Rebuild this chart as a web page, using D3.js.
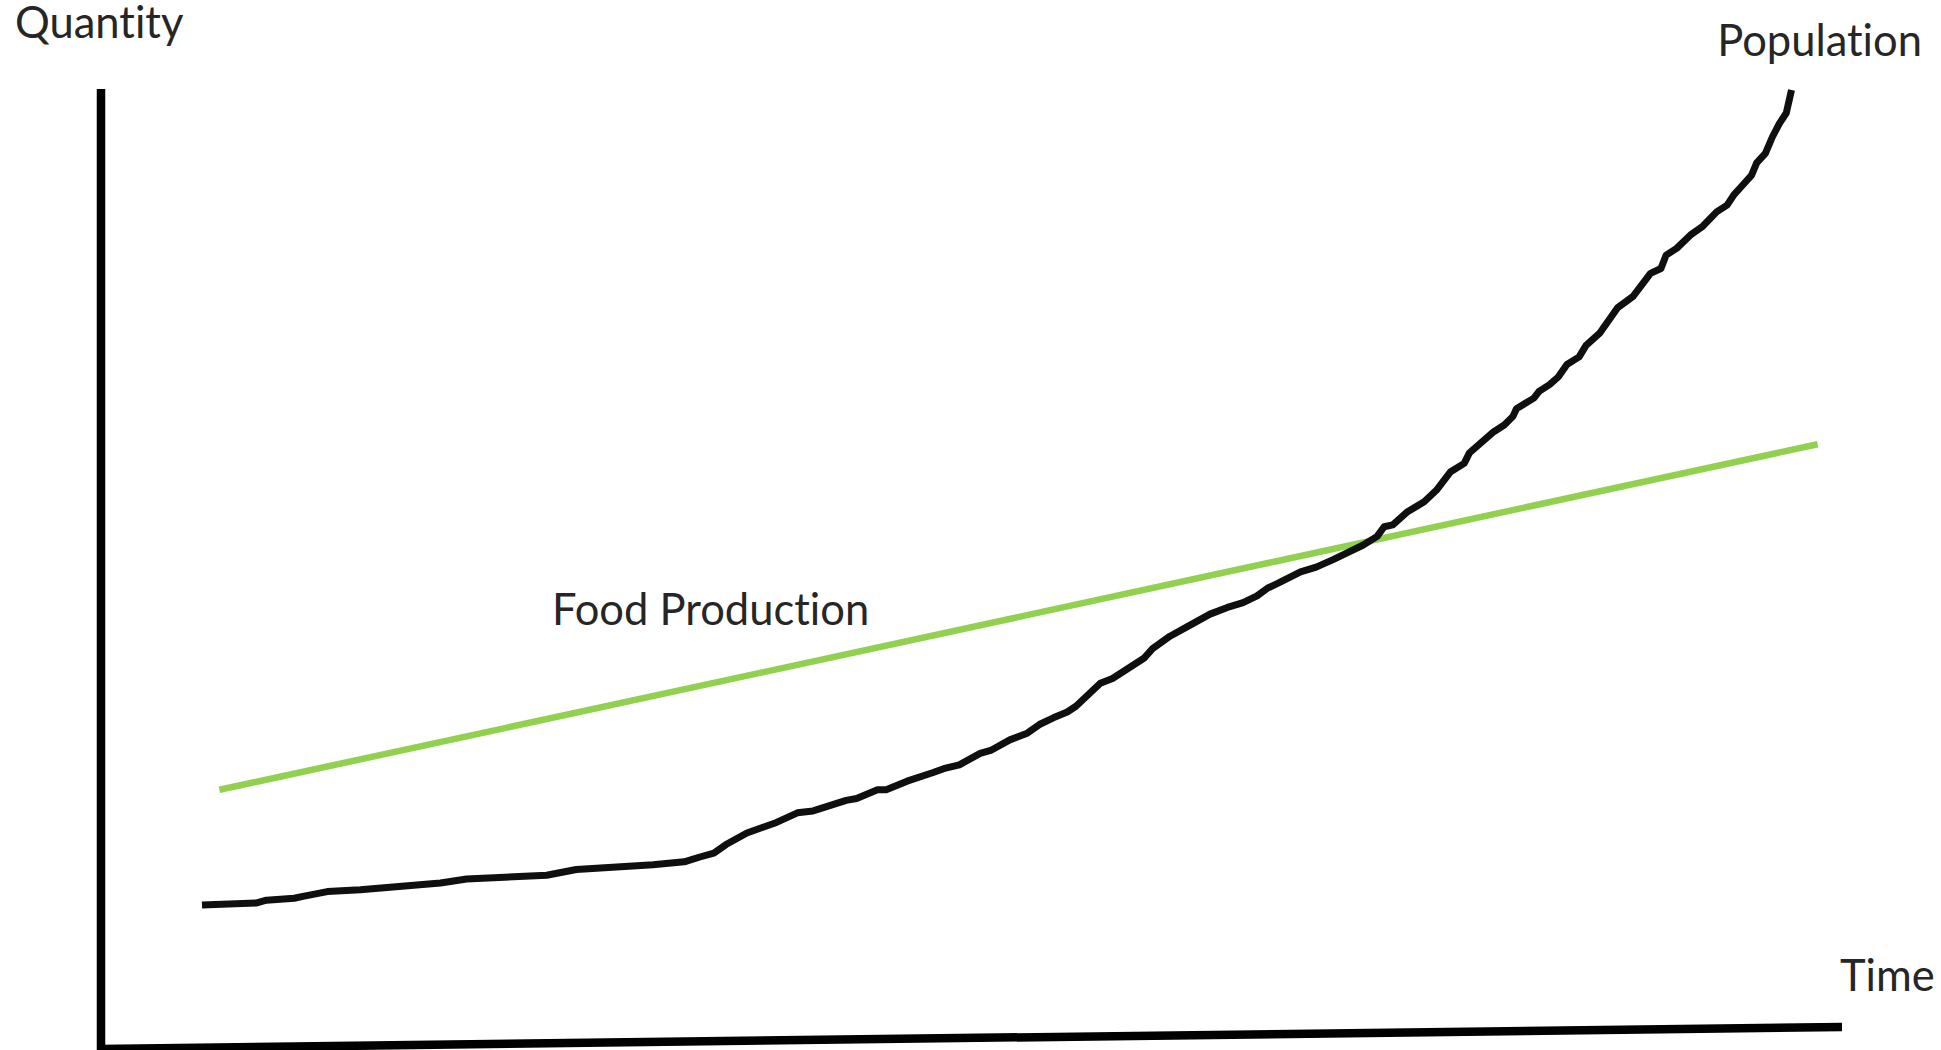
<!DOCTYPE html>
<html>
<head>
<meta charset="utf-8">
<script src="https://cdn.jsdelivr.net/npm/d3@7"></script>
<style>
  body { margin: 0; background: #fff; }
  svg { display: block; }
  text { font-family: Lato, "Open Sans", sans-serif; fill: #262626; font-variant-ligatures: none; }
</style>
</head>
<body>
<svg width="1941" height="1050"></svg>
<script>
// time / quantity units, 0..100 on both axes
var popTime = [5.8, 8.9, 9.5, 11.1, 11.6, 13.0, 14.9, 19.5, 21.0, 25.6, 27.3, 31.7, 33.5, 34.4,
  35.2, 35.9, 37.1, 38.8, 40.0, 40.9, 42.8, 43.4, 44.6, 45.1, 46.3, 47.8, 48.4, 49.3, 50.5, 51.1,
  52.2, 53.2, 53.9, 54.7, 55.5, 56.0, 57.4, 58.1, 58.7, 59.3, 59.9, 60.4, 61.4, 62.4, 63.7, 64.7,
  65.6, 66.4, 67.0, 67.7, 68.9, 69.8, 70.8, 71.6, 72.5, 73.3, 73.7, 74.2, 75.0, 76.0, 76.7, 77.5,
  78.3, 78.6, 80.0, 80.6, 81.1, 81.3, 82.3, 82.6, 83.2, 83.7, 84.2, 84.9, 85.3, 86.1, 87.1, 88.0,
  89.0, 89.6, 89.9, 90.5, 91.3, 92.0, 92.8, 93.4, 93.8, 94.3, 94.8, 95.1, 95.6, 96.0, 96.4, 96.8, 97.1];
var popQty = [15.0, 15.2, 15.5, 15.7, 15.9, 16.4, 16.6, 17.3, 17.7, 18.1, 18.7, 19.2, 19.5, 20.0,
  20.4, 21.3, 22.5, 23.6, 24.6, 24.8, 25.9, 26.1, 27.0, 27.0, 27.9, 28.8, 29.2, 29.6, 30.8, 31.1,
  32.2, 32.9, 33.8, 34.5, 35.1, 35.7, 38.1, 38.6, 39.3, 40.0, 40.7, 41.7, 43.0, 44.0, 45.3, 46.0,
  46.5, 47.2, 48.0, 48.6, 49.7, 50.2, 51.0, 51.7, 52.5, 53.4, 54.4, 54.6, 55.9, 57.0, 58.2, 60.1,
  61.0, 62.1, 64.3, 65.0, 65.9, 66.7, 67.8, 68.5, 69.2, 70.0, 71.3, 72.1, 73.3, 74.6, 77.2, 78.4,
  80.8, 81.3, 82.7, 83.4, 84.8, 85.7, 87.2, 87.9, 89.0, 90.0, 91.0, 92.3, 93.3, 95.0, 96.4, 97.5, 99.9];

var foodTime = [6.8, 98.6];
var foodQty = [27.0, 63.0];

var vAxisTime = [0, 0], vAxisQty = [-0.3, 100];
var hAxisTime = [0, 100], hAxisQty = [0, 2.3];

var labels = ["Quantity", "Time", "Population", "Food Production"];

var svg = d3.select("svg"),
    width = +svg.attr("width"),
    height = +svg.attr("height");

var x = d3.scaleLinear().domain([0, 100]).range([101, 1842]);
var y = d3.scaleLinear().domain([0, 100]).range([1049, 89]);

function zipPts(a, b) {
  return a.map(function(d, i) { return [d, b[i]]; });
}

var line = d3.line()
    .x(function(d) { return x(d[0]); })
    .y(function(d) { return y(d[1]); });

// axes as hand drawn strokes
svg.append("path")
    .attr("d", line(zipPts(vAxisTime, vAxisQty)))
    .attr("stroke", "#000")
    .attr("stroke-width", 8.5)
    .attr("fill", "none");
svg.append("path")
    .attr("d", line(zipPts(hAxisTime, hAxisQty)))
    .attr("stroke", "#000")
    .attr("stroke-width", 8.5)
    .attr("fill", "none");

svg.append("path")
    .attr("d", line(zipPts(foodTime, foodQty)))
    .attr("stroke", "#92d050")
    .attr("stroke-width", 6.5)
    .attr("fill", "none");

svg.append("path")
    .attr("d", line(zipPts(popTime, popQty)))
    .attr("stroke", "#0f0f0f")
    .attr("stroke-width", 7)
    .attr("stroke-linejoin", "round")
    .attr("fill", "none");

var fs = 43.5;
svg.append("text").attr("x", 15).attr("y", 38).style("font-size", fs + "px").text(labels[0]);
svg.append("text").attr("x", 1840).attr("y", 991).style("font-size", fs + "px").text(labels[1]);
svg.append("text").attr("x", 1922).attr("y", 56).attr("text-anchor", "end").style("font-size", fs + "px").text(labels[2]);
svg.append("text").attr("x", 552).attr("y", 625).style("font-size", fs + "px").text(labels[3]);
</script>
</body>
</html>
